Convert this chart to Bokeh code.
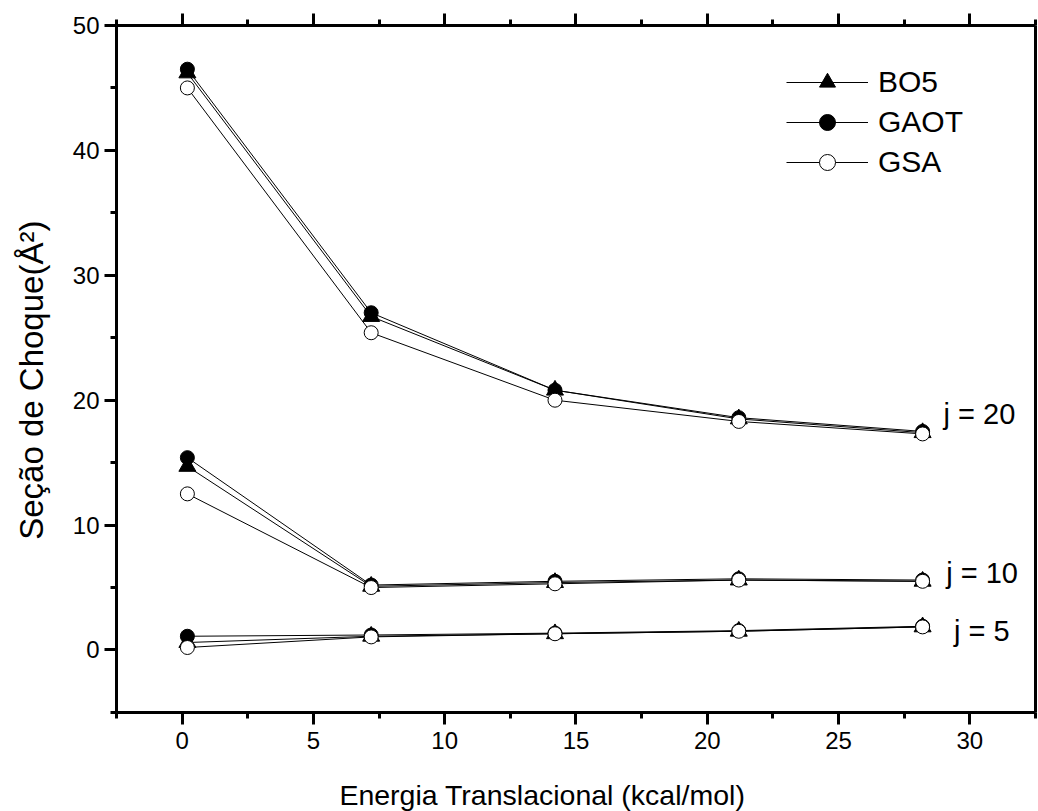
import math
from bokeh.plotting import figure
from bokeh.models import (LinearAxis, Range1d, Legend, LegendItem, FixedTicker,
                          CustomJSTickFormatter)
from bokeh.core.properties import value
from bokeh.embed import file_html
from bokeh.resources import INLINE

# Translational energy (kcal/mol)
energy = [0.2, 7.2, 14.2, 21.2, 28.2]

# Cross sections (A^2) per method and rotational level j
bo5_j5 = [0.6, 1.1, 1.3, 1.5, 1.85]
bo5_j10 = [14.7, 5.1, 5.4, 5.6, 5.5]
bo5_j20 = [46.2, 26.7, 20.8, 18.5, 17.4]

gaot_j5 = [1.1, 1.2, 1.35, 1.55, 1.9]
gaot_j10 = [15.4, 5.2, 5.5, 5.7, 5.6]
gaot_j20 = [46.5, 27.0, 20.8, 18.6, 17.5]

gsa_j5 = [0.2, 1.05, 1.3, 1.5, 1.85]
gsa_j10 = [12.5, 5.0, 5.3, 5.6, 5.5]
gsa_j20 = [45.0, 25.4, 20.0, 18.3, 17.3]

methods = ["BO5", "GAOT", "GSA"]
level_labels = ["j = 5", "j = 10", "j = 20"]

x_major = [0, 5, 10, 15, 20, 25, 30]
x_minor = [-2.5, 2.5, 7.5, 12.5, 17.5, 22.5, 27.5, 32.5]
y_major = [0, 10, 20, 30, 40, 50]
y_minor = [-5, 5, 15, 25, 35, 45]

X_LO, X_HI = -2.5, 32.5
Y_LO, Y_HI = -5, 50

FONT = "Liberation Sans"

# The canvas is one big frame; the axis box sits inside it on fixed axes,
# which leaves room for the axis titles as plain text glyphs.
p = figure(width=1038, height=811, output_backend="svg", toolbar_location=None,
           x_range=Range1d(-6.917, 32.614), y_range=Range1d(-12.93, 52.0),
           min_border_left=0, min_border_right=0, min_border_top=0,
           min_border_bottom=0)
p.background_fill_color = "white"
p.border_fill_color = "white"
p.grid.visible = False
p.outline_line_color = None

p.add_layout(LinearAxis(), "above")
p.add_layout(LinearAxis(), "right")


def style_axis(ax, major, minor, loc, bounds, labels=True, ticks=True):
    ax.fixed_location = loc
    ax.bounds = bounds
    ax.ticker = FixedTicker(ticks=major, minor_ticks=minor)
    ax.axis_line_width = 3
    ax.axis_line_color = "black"
    ax.major_tick_line_width = 3
    ax.minor_tick_line_width = 3
    ax.major_tick_out = 12 if ticks else 0
    ax.major_tick_in = 0
    ax.minor_tick_out = 6 if ticks else 0
    ax.minor_tick_in = 0
    ax.major_label_text_font = FONT
    ax.major_label_text_font_size = "24px"
    ax.major_label_text_color = "black"
    if not labels:
        ax.formatter = CustomJSTickFormatter(code="return ''")
        ax.major_label_standoff = 0


style_axis(p.above[0], x_major, x_minor, Y_HI, (X_LO, X_HI), labels=False)
style_axis(p.below[0], x_major, x_minor, Y_LO, (X_LO, X_HI))
style_axis(p.left[0], y_major, y_minor, X_LO, (Y_LO, Y_HI))
style_axis(p.right[0], y_major, y_minor, X_HI, (Y_LO, Y_HI), labels=False, ticks=False)
p.below[0].major_label_standoff = 8
p.left[0].major_label_standoff = 5

# axis titles
p.text(x=[13.72], y=[-11.57], text=["Energia Translacional (kcal/mol)"],
       text_font=value(FONT), text_font_size="28.5px", text_color="black",
       text_align="center", text_baseline="middle")
p.text(x=[-5.75], y=[21.6], text=["Seção de Choque(Å²)"], angle=math.pi / 2,
       text_font=value(FONT), text_font_size="33px", text_color="black",
       text_align="center", text_baseline="middle")

series = {
    "BO5": (bo5_j5, bo5_j10, bo5_j20),
    "GAOT": (gaot_j5, gaot_j10, gaot_j20),
    "GSA": (gsa_j5, gsa_j10, gsa_j20),
}
marker_style = {
    "BO5": dict(marker="triangle", fill_color="black", size=17),
    "GAOT": dict(marker="circle", fill_color="black", size=14),
    "GSA": dict(marker="circle", fill_color="white", size=14),
}

lines = {}
for name in methods:
    groups = series[name]
    lines[name] = p.multi_line(xs=[energy] * len(groups), ys=[list(g) for g in groups],
                               line_color="black", line_width=1)

dots = {}
for name in methods:
    groups = series[name]
    xs = [e for g in groups for e in energy]
    ys = [v for g in groups for v in g]
    st = marker_style[name]
    dots[name] = p.scatter(xs, ys, marker=st["marker"], size=st["size"],
                           fill_color=st["fill_color"], line_color="black",
                           line_width=1)

# level annotations at the right end of each curve family
p.text(x=[29.4, 29.1, 29.0], y=[1.55, 6.2, 18.9], text=level_labels,
       text_font=value(FONT), text_font_size="29px", text_color="black",
       text_align="left", text_baseline="middle")

legend = Legend(items=[LegendItem(label=n, renderers=[lines[n], dots[n]]) for n in methods],
                location=(786, 629))
legend.glyph_width = 82
legend.glyph_height = 40
legend.spacing = 0
legend.padding = 0
legend.margin = 0
legend.label_standoff = 10
legend.label_text_font = FONT
legend.label_text_font_size = "30px"
legend.label_text_color = "black"
legend.border_line_color = None
legend.background_fill_alpha = 0
p.add_layout(legend, "center")

open("out.html", "w").write(file_html(p, INLINE))
